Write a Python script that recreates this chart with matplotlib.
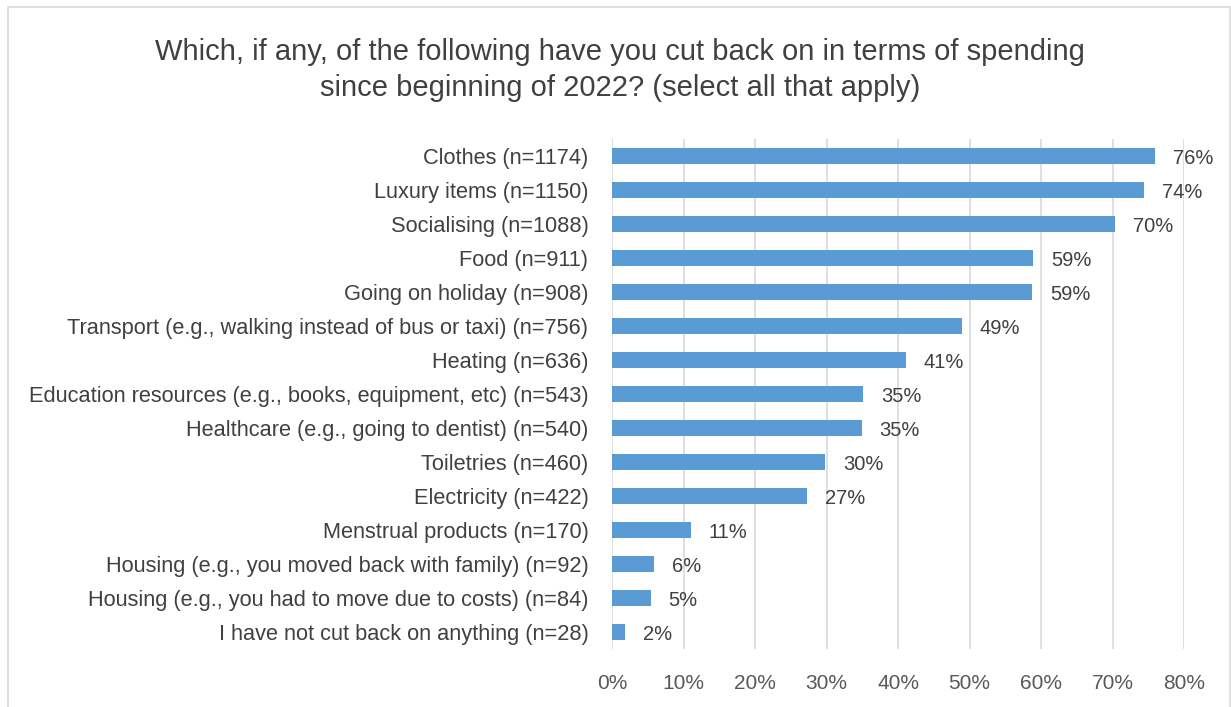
import matplotlib.pyplot as plt
from matplotlib.patches import Rectangle

# -----------------------------
# Style
# -----------------------------
BAR_COLOR = "#5B9BD5"
GRID_COLOR = "#D9D9D9"
LABEL_COLOR = "#404040"
TICK_COLOR = "#595959"
BORDER_COLOR = "#D9D9D9"

plt.rcParams["font.family"] = ["Liberation Sans", "DejaVu Sans"]

# -----------------------------
# Data (top to bottom)
# -----------------------------
categories = [
    "Clothes (n=1174)",
    "Luxury items (n=1150)",
    "Socialising (n=1088)",
    "Food (n=911)",
    "Going on holiday (n=908)",
    "Transport (e.g., walking instead of bus or taxi) (n=756)",
    "Heating (n=636)",
    "Education resources (e.g., books, equipment, etc) (n=543)",
    "Healthcare (e.g., going to dentist) (n=540)",
    "Toiletries (n=460)",
    "Electricity (n=422)",
    "Menstrual products (n=170)",
    "Housing (e.g., you moved back with family) (n=92)",
    "Housing (e.g., you had to move due to costs) (n=84)",
    "I have not cut back on anything (n=28)",
]
values = [75.9, 74.4, 70.4, 58.9, 58.7, 48.9, 41.1, 35.1, 34.9,
          29.8, 27.3, 11.0, 5.9, 5.4, 1.8]
value_labels = ["76%", "74%", "70%", "59%", "59%", "49%", "41%", "35%",
                "35%", "30%", "27%", "11%", "6%", "5%", "2%"]
x_ticks = [0, 10, 20, 30, 40, 50, 60, 70, 80]
x_tick_labels = ["0%", "10%", "20%", "30%", "40%", "50%", "60%", "70%", "80%"]

title = ("Which, if any, of the following have you cut back on in terms of spending\n"
         "since beginning of 2022? (select all that apply)")

W, H = 1231, 707
fig = plt.figure(figsize=(W / 100, H / 100), dpi=100)
ax = fig.add_axes([612 / W, 1 - 649 / H, (1184 - 612) / W, (649 - 139) / H])

y_pos = list(range(len(categories)))
ax.barh(y_pos, values, height=0.45, color=BAR_COLOR, zorder=3)
ax.set_ylim(len(categories) - 0.5, -0.5)
ax.set_xlim(0, 80)

for y, v, lab in zip(y_pos, values, value_labels):
    ax.annotate(lab, (v, y), xytext=(13, -1.5), textcoords="offset points",
                va="center", ha="left", fontsize=14.5, color=LABEL_COLOR)

ax.set_yticks(y_pos)
ax.set_yticklabels(categories, fontsize=15.7, color=LABEL_COLOR)
ax.set_xticks(x_ticks)
ax.set_xticklabels(x_tick_labels, fontsize=15, color=TICK_COLOR)
ax.tick_params(axis="both", length=0)
ax.tick_params(axis="y", pad=17)
ax.tick_params(axis="x", pad=18)

ax.grid(axis="x", color=GRID_COLOR, linewidth=1.2, zorder=0)
for s in ax.spines.values():
    s.set_visible(False)

fig.text(620 / W, 1 - 70 / H, title, ha="center", va="center",
         fontsize=21, color=LABEL_COLOR, linespacing=1.35)

# outer chart border
fig.patches.append(Rectangle((8 / W, -0.01), 1 - 9 / W, 1 - 7 / H + 0.01,
                             transform=fig.transFigure, fill=False,
                             edgecolor=BORDER_COLOR, linewidth=1.2))

plt.savefig("out.png", dpi=100)
plt.close()
